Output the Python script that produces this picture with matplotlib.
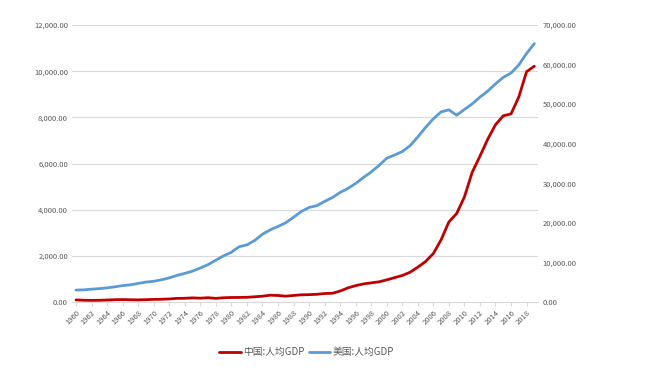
import matplotlib
matplotlib.use("Agg")
import matplotlib.pyplot as plt
from matplotlib.ticker import FuncFormatter

plt.rcParams['font.family'] = ['Noto Sans CJK SC', 'DejaVu Sans']

years = list(range(1960, 2020))
china = [89.5, 75.8, 70.9, 74.3, 85.5, 98.5, 104.3, 96.6, 91.5, 100.1,
         113.2, 118.7, 131.9, 157.1, 160.1, 178.3, 165.4, 185.4, 156.4, 183.9,
         194.8, 197.1, 203.3, 225.4, 250.7, 294.5, 281.9, 251.8, 283.5, 310.9,
         317.9, 333.1, 366.5, 377.4, 473.5, 609.7, 709.4, 781.7, 828.6, 873.3,
         959.4, 1053.1, 1148.5, 1288.6, 1508.7, 1753.4, 2099.2, 2694.0, 3468.3, 3832.2,
         4550.5, 5618.1, 6316.9, 7050.6, 7678.6, 8066.9, 8147.9, 8879.4, 9976.7, 10216.6]
usa = [3007, 3067, 3244, 3375, 3574, 3828, 4146, 4336, 4696, 5032,
       5234, 5609, 6094, 6726, 7226, 7801, 8592, 9453, 10565, 11674,
       12575, 13976, 14434, 15544, 17121, 18237, 19071, 20039, 21417, 22857,
       23889, 24342, 25419, 26387, 27695, 28691, 29968, 31459, 32854, 34513,
       36335, 37133, 38023, 39497, 41712, 44115, 46299, 48050, 48570, 47195,
       48651, 50066, 51784, 53291, 55124, 56763, 57867, 59915, 62805, 65298]
series_names = ['中国:人均GDP', '美国:人均GDP']
left_ticks = [0, 2000, 4000, 6000, 8000, 10000, 12000]
right_ticks = [0, 10000, 20000, 30000, 40000, 50000, 60000, 70000]

fig = plt.figure(figsize=(6.5, 3.69), dpi=100)
ax = fig.add_axes([0.111, 0.1816, 0.717, 0.7506])
ax2 = ax.twinx()

x = list(range(len(years)))
l1, = ax.plot(x, china, color='#C00000', lw=2.0, solid_capstyle='round', zorder=3)
l2, = ax2.plot(x, usa, color='#5B9BD5', lw=2.0, solid_capstyle='round', zorder=3)

ax.set_xlim(-0.5, len(years) - 0.5)
ax.set_ylim(0, 12000)
ax2.set_ylim(0, 70000)
ax.set_yticks(left_ticks)
ax2.set_yticks(right_ticks)
fmt = FuncFormatter(lambda v, p: f'{v:,.2f}')
ax.yaxis.set_major_formatter(fmt)
ax2.yaxis.set_major_formatter(fmt)

ax.set_xticks(x[::2])
ax.set_xticklabels([str(y) for y in years[::2]], rotation=45, ha='right',
                   rotation_mode='anchor')

ax.grid(axis='y', color='#D9D9D9', lw=0.8)
ax.set_axisbelow(True)
for a in (ax, ax2):
    for s in ['top', 'left', 'right', 'bottom']:
        a.spines[s].set_visible(False)
    a.tick_params(axis='both', labelsize=5.5, colors='#595959', length=0, pad=3)
ax.spines['bottom'].set_visible(True)
ax.spines['bottom'].set_color('#D9D9D9')
ax.tick_params(axis='x', length=3, color='#D9D9D9', pad=2)

fig.legend([l1, l2], series_names, loc='center', bbox_to_anchor=(0.472, 0.045),
           ncol=2, frameon=False, fontsize=7, labelcolor='#595959',
           handlelength=2.2, columnspacing=0.4, handletextpad=0.3)

fig.savefig('out.png', dpi=100)
